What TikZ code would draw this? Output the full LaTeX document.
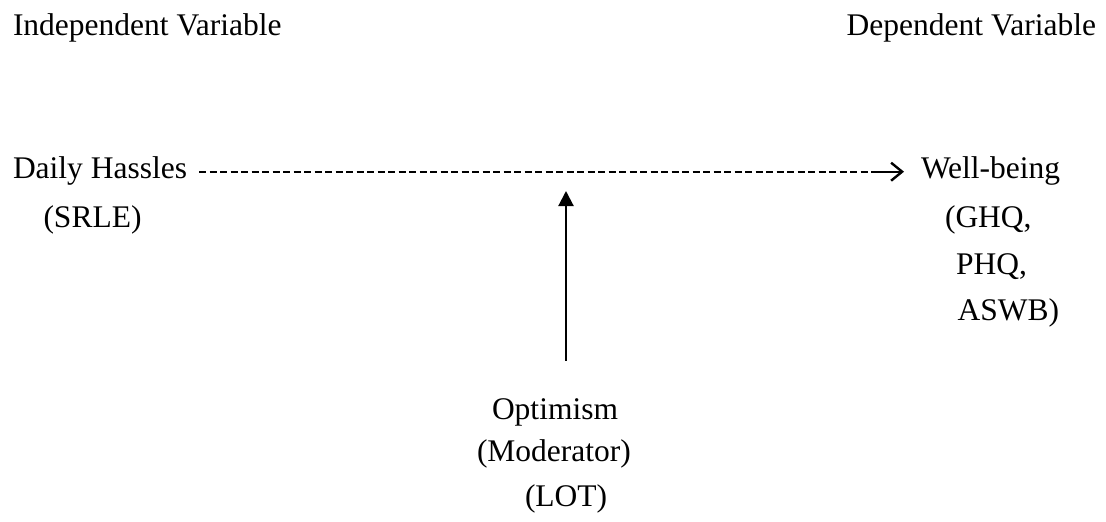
\documentclass[tikz,border=0pt]{standalone}
\usepackage{fontspec}
\setmainfont{Liberation Serif}
\usetikzlibrary{arrows.meta}
\begin{document}
\begin{tikzpicture}[x=1pt,y=-1pt,
  lbl/.style={inner sep=0pt,outer sep=0pt,anchor=base west,font=\fontsize{31.5}{38}\selectfont},
  lble/.style={lbl,anchor=base east},
  hyphenline/.style={line width=2.2pt,dash pattern=on 7pt off 3.5pt},
  barbtip/.style={line width=2.4pt,-{Straight Barb[length=11pt,width=18pt,line width=2.4pt]}},
  modarrow/.style={line width=2.1pt,-{Triangle[length=15pt,width=15pt]}}]
  \useasboundingbox (0,0) rectangle (1106,522);
  % column headings
  \node[lbl]  (indep) at (13,35)   {Independent Variable};
  \node[lble] (dep)   at (1096,35) {Dependent Variable};
  % independent variable
  \node[lbl] (hassles) at (13,178)  {Daily Hassles};
  \node[lbl] (srle)    at (43.5,227) {(SRLE)};
  % dependent variable
  \node[lbl] (wellbeing) at (921,178) {Well-being};
  \node[lbl] (ghq)  at (945,227.5) {(GHQ,};
  \node[lbl] (phq)  at (956,274)   {PHQ,};
  \node[lbl] (aswb) at (957.5,320.5) {ASWB)};
  % moderator
  \node[lbl] (optimism)  at (492,419.5) {Optimism};
  \node[lbl] (moderator) at (477,461)   {(Moderator)};
  \node[lbl] (lot)       at (525,506.5) {(LOT)};
  % hassles -> well-being path
  \coordinate (dashend) at ([xshift=-44pt,yshift=6.3pt]wellbeing.base west);
  \draw[hyphenline] ([xshift=12pt,yshift=6.3pt]hassles.base east) -- (dashend);
  \draw[barbtip] (dashend) -- ([xshift=-17pt,yshift=6.3pt]wellbeing.base west);
  % moderating effect
  \coordinate (modtip) at (566,191);
  \draw[modarrow] (optimism.north -| modtip) ++(0,-38) -- (modtip);
\end{tikzpicture}
\end{document}
